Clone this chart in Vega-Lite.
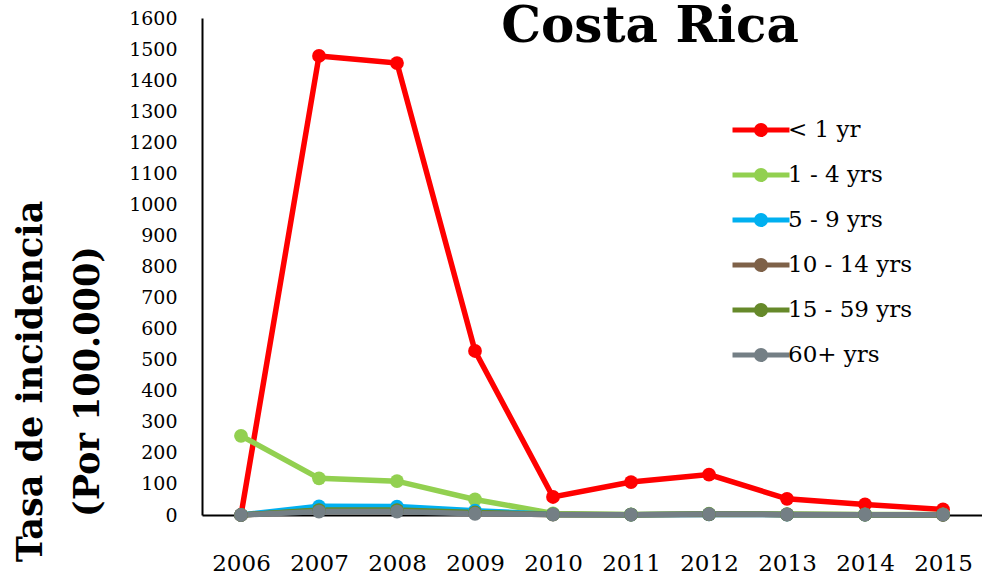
{
  "$schema": "https://vega.github.io/schema/vega-lite/v6.json",
  "width": 780,
  "height": 497,
  "autosize": {"type": "none"},
  "padding": {"left": 202, "top": 18, "right": 0, "bottom": 67},
  "background": "white",
  "title": {"text": "Costa Rica", "font": "DejaVu Serif", "fontSize": 50, "fontWeight": "bold", "color": "black", "anchor": "middle", "dx": 58, "dy": 47},
  "config": {"view": {"stroke": null}},
  "data": {"values": [
    {"group": "< 1 yr", "year": "2006", "rate": 0},
    {"group": "< 1 yr", "year": "2007", "rate": 1478},
    {"group": "< 1 yr", "year": "2008", "rate": 1455},
    {"group": "< 1 yr", "year": "2009", "rate": 528},
    {"group": "< 1 yr", "year": "2010", "rate": 58},
    {"group": "< 1 yr", "year": "2011", "rate": 106},
    {"group": "< 1 yr", "year": "2012", "rate": 130},
    {"group": "< 1 yr", "year": "2013", "rate": 52},
    {"group": "< 1 yr", "year": "2014", "rate": 34},
    {"group": "< 1 yr", "year": "2015", "rate": 18},
    {"group": "1 - 4 yrs", "year": "2006", "rate": 255},
    {"group": "1 - 4 yrs", "year": "2007", "rate": 118},
    {"group": "1 - 4 yrs", "year": "2008", "rate": 109},
    {"group": "1 - 4 yrs", "year": "2009", "rate": 50},
    {"group": "1 - 4 yrs", "year": "2010", "rate": 5},
    {"group": "1 - 4 yrs", "year": "2011", "rate": 2},
    {"group": "1 - 4 yrs", "year": "2012", "rate": 4},
    {"group": "1 - 4 yrs", "year": "2013", "rate": 3},
    {"group": "1 - 4 yrs", "year": "2014", "rate": 2},
    {"group": "1 - 4 yrs", "year": "2015", "rate": 2},
    {"group": "5 - 9 yrs", "year": "2006", "rate": 0},
    {"group": "5 - 9 yrs", "year": "2007", "rate": 28},
    {"group": "5 - 9 yrs", "year": "2008", "rate": 27},
    {"group": "5 - 9 yrs", "year": "2009", "rate": 14},
    {"group": "5 - 9 yrs", "year": "2010", "rate": 2},
    {"group": "5 - 9 yrs", "year": "2011", "rate": 1},
    {"group": "5 - 9 yrs", "year": "2012", "rate": 2},
    {"group": "5 - 9 yrs", "year": "2013", "rate": 1},
    {"group": "5 - 9 yrs", "year": "2014", "rate": 1},
    {"group": "5 - 9 yrs", "year": "2015", "rate": 1},
    {"group": "10 - 14 yrs", "year": "2006", "rate": 0},
    {"group": "10 - 14 yrs", "year": "2007", "rate": 14},
    {"group": "10 - 14 yrs", "year": "2008", "rate": 14},
    {"group": "10 - 14 yrs", "year": "2009", "rate": 6},
    {"group": "10 - 14 yrs", "year": "2010", "rate": 1},
    {"group": "10 - 14 yrs", "year": "2011", "rate": 1},
    {"group": "10 - 14 yrs", "year": "2012", "rate": 2},
    {"group": "10 - 14 yrs", "year": "2013", "rate": 1},
    {"group": "10 - 14 yrs", "year": "2014", "rate": 1},
    {"group": "10 - 14 yrs", "year": "2015", "rate": 0},
    {"group": "15 - 59 yrs", "year": "2006", "rate": 0},
    {"group": "15 - 59 yrs", "year": "2007", "rate": 16},
    {"group": "15 - 59 yrs", "year": "2008", "rate": 16},
    {"group": "15 - 59 yrs", "year": "2009", "rate": 8},
    {"group": "15 - 59 yrs", "year": "2010", "rate": 2},
    {"group": "15 - 59 yrs", "year": "2011", "rate": 1},
    {"group": "15 - 59 yrs", "year": "2012", "rate": 3},
    {"group": "15 - 59 yrs", "year": "2013", "rate": 2},
    {"group": "15 - 59 yrs", "year": "2014", "rate": 1},
    {"group": "15 - 59 yrs", "year": "2015", "rate": 1},
    {"group": "60+ yrs", "year": "2006", "rate": 0},
    {"group": "60+ yrs", "year": "2007", "rate": 11},
    {"group": "60+ yrs", "year": "2008", "rate": 11},
    {"group": "60+ yrs", "year": "2009", "rate": 4},
    {"group": "60+ yrs", "year": "2010", "rate": 2},
    {"group": "60+ yrs", "year": "2011", "rate": 1},
    {"group": "60+ yrs", "year": "2012", "rate": 3},
    {"group": "60+ yrs", "year": "2013", "rate": 2},
    {"group": "60+ yrs", "year": "2014", "rate": 1},
    {"group": "60+ yrs", "year": "2015", "rate": 1}
  ]},
  "mark": {"type": "line", "strokeWidth": 5.5, "point": {"filled": true, "size": 190, "opacity": 1}},
  "encoding": {
    "x": {"field": "year", "type": "ordinal", "title": null,
      "axis": {"labelAngle": 0, "ticks": false, "tickSize": 0, "grid": false, "domainColor": "black", "domainWidth": 2, "labelFont": "DejaVu Serif", "labelFontSize": 23, "labelColor": "black", "labelPadding": 37, "labelBaseline": "top"}},
    "y": {"field": "rate", "type": "quantitative", "scale": {"domain": [0, 1600]},
      "axis": {"values": [0,100,200,300,400,500,600,700,800,900,1000,1100,1200,1300,1400,1500,1600], "format": "d", "ticks": false, "tickSize": 0, "grid": false, "domainColor": "black", "domainWidth": 2, "labelFont": "DejaVu Serif", "labelFontSize": 19, "labelColor": "black", "labelPadding": 25,
        "title": ["Tasa de incidencia", "(Por 100.000)"], "titleFont": "DejaVu Serif", "titleFontSize": 35, "titleFontWeight": "bold", "titleColor": "black", "titleAngle": -90, "titleX": -161, "titleY": 363, "titleAlign": "center", "titleBaseline": "alphabetic", "titleLineHeight": 57}},
    "color": {"field": "group", "type": "nominal",
      "sort": ["< 1 yr", "1 - 4 yrs", "5 - 9 yrs", "10 - 14 yrs", "15 - 59 yrs", "60+ yrs"],
      "scale": {"domain": ["< 1 yr", "1 - 4 yrs", "5 - 9 yrs", "10 - 14 yrs", "15 - 59 yrs", "60+ yrs"], "range": ["#FF0000", "#92D050", "#00B0F0", "#7E6148", "#66892A", "#747F85"]},
      "legend": {"orient": "none", "legendX": 542, "legendY": 95, "title": null, "padding": 0,
        "symbolType": "M-2,0L2,0M0.32,0A0.32,0.32,0,1,1,-0.32,0A0.32,0.32,0,1,1,0.32,0Z", "symbolSize": 812, "symbolStrokeWidth": 5,
        "labelFont": "DejaVu Serif", "labelFontSize": 23, "labelColor": "black", "labelOffset": 10, "rowPadding": 13, "labelLimit": 300,
        "encode": {"symbols": {"update": {"fill": {"scale": "color", "field": "value"}, "opacity": {"value": 1}}}}}}
  }
}
